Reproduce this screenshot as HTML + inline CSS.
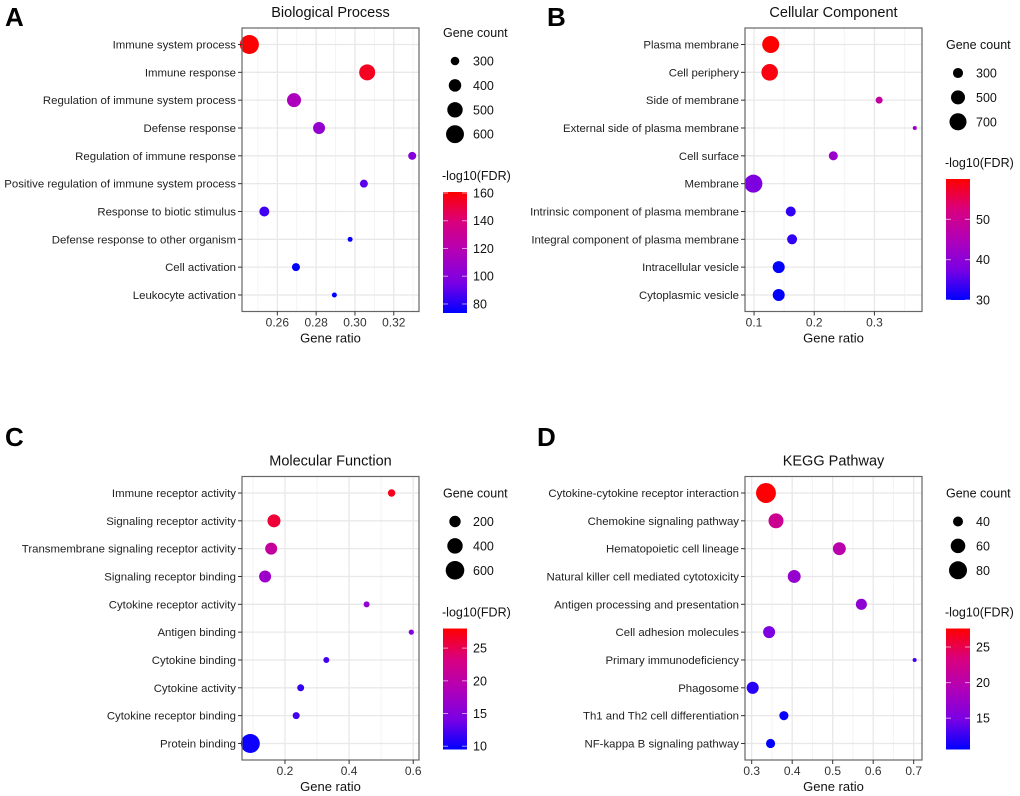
<!DOCTYPE html>
<html><head><meta charset="utf-8"><style>
html,body{margin:0;padding:0;background:#fff;}
svg{display:block;font-family:"Liberation Sans",Arial,sans-serif;}
</style></head><body>
<svg id="fig" width="1020" height="796" viewBox="0 0 1020 796">
<defs>
<linearGradient id="cbar" x1="0" y1="1" x2="0" y2="0">
<stop offset="0" stop-color="#0000ff"/><stop offset="0.25" stop-color="#7a00e4"/><stop offset="0.5" stop-color="#b100b8"/><stop offset="0.75" stop-color="#d9007e"/><stop offset="1" stop-color="#ff0000"/>
</linearGradient>
</defs>
</svg>
<script>
// Panel A: Biological Process
const aTerms=["Immune system process","Immune response","Regulation of immune system process","Defense response","Regulation of immune response","Positive regulation of immune system process","Response to biotic stimulus","Defense response to other organism","Cell activation","Leukocyte activation"];
const aRatio=[0.2456,0.3063,0.2686,0.2815,0.3295,0.3046,0.2533,0.2975,0.2696,0.2894];
const aCount=[650,522,449,385,288,288,332,240,288,240];
const aFdr=[160,155,115,105,100,90,85,75,72,72];
const aXTicks=[0.26,0.28,0.30,0.32];
const aSizeTicks=[300,400,500,600];
const aColorTicks=[80,100,120,140,160];
// Panel B: Cellular Component
const bTerms=["Plasma membrane","Cell periphery","Side of membrane","External side of plasma membrane","Cell surface","Membrane","Intrinsic component of plasma membrane","Integral component of plasma membrane","Intracellular vesicle","Cytoplasmic vesicle"];
const bRatio=[0.1277,0.126,0.3078,0.367,0.2317,0.0989,0.161,0.1632,0.141,0.141];
const bCount=[700,668,188,119,257,773,297,297,390,390];
const bFdr=[60,59,48,42,42,38,33,33,30,30];
const bXTicks=[0.1,0.2,0.3];
const bSizeTicks=[300,500,700];
const bColorTicks=[30,40,50];
// Panel C: Molecular Function
const cTerms=["Immune receptor activity","Signaling receptor activity","Transmembrane signaling receptor activity","Signaling receptor binding","Cytokine receptor activity","Antigen binding","Cytokine binding","Cytokine activity","Cytokine receptor binding","Protein binding"];
const cRatio=[0.5325,0.1657,0.157,0.138,0.4546,0.594,0.329,0.249,0.235,0.092];
const cCount=[61,272,226,226,26,10,26,50,50,628];
const cFdr=[27,26,21,17,16,15,12,11.5,12,10];
const cXTicks=[0.2,0.4,0.6];
const cSizeTicks=[200,400,600];
const cColorTicks=[10,15,20,25];
// Panel D: KEGG Pathway
const dTerms=["Cytokine-cytokine receptor interaction","Chemokine signaling pathway","Hematopoietic cell lineage","Natural killer cell mediated cytotoxicity","Antigen processing and presentation","Cell adhesion molecules","Primary immunodeficiency","Phagosome","Th1 and Th2 cell differentiation","NF-kappa B signaling pathway"];
const dRatio=[0.3353,0.36,0.5164,0.405,0.5708,0.343,0.7023,0.3025,0.3795,0.3466];
const dCount=[93,62,52,52,44,48,25,48,37,37];
const dFdr=[27.5,22,20,17,16.5,15,13,12,11,10.6];
const dXTicks=[0.3,0.4,0.5,0.6,0.7];
const dSizeTicks=[40,60,80];
const dColorTicks=[15,20,25];

const NS="http://www.w3.org/2000/svg";
const svg=document.getElementById('fig');
function mk(tag,attrs,parent,text){const e=document.createElementNS(NS,tag);for(const k in attrs)e.setAttribute(k,attrs[k]);if(text!==undefined)e.textContent=text;(parent||svg).appendChild(e);return e;}
const stops=[[0,[0,0,255]],[0.25,[122,0,228]],[0.5,[177,0,184]],[0.75,[217,0,126]],[1,[255,0,0]]];
function colorAt(t){t=Math.max(0,Math.min(1,t));for(let i=1;i<stops.length;i++){if(t<=stops[i][0]){const a=stops[i-1],b=stops[i];const f=(t-a[0])/(b[0]-a[0]);const c=a[1].map((v,j)=>Math.round(v+(b[1][j]-v)*f));return `rgb(${c[0]},${c[1]},${c[2]})`;}}return 'rgb(255,0,0)';}
function fmt(v,dec){return v.toFixed(dec);}

function panel(p){
  const g=mk('g',{});
  
  
  const L=p.x0,R=p.x0+177,T=p.y0,B=p.y0+283.5;
  const xs=v=>L+(v-p.dom[0])/(p.dom[1]-p.dom[0])*(R-L);
  const ys=i=>T+16.5+i*27.83;
  const rs=c=>Math.sqrt(Math.max(4,p.sa+p.sb*c));
  const cs=v=>(v-p.cdom[0])/(p.cdom[1]-p.cdom[0]);
  const letter=mk('text',{x:p.lx,y:p.ly,'font-size':26,'font-weight':'bold',fill:'#000'},g,p.letter);
  
  
  const title=mk('text',{x:(L+R)/2,y:T-11,'font-size':14.5,'text-anchor':'middle',fill:'#111'},g,p.title);
  
  
  mk('rect',{x:L,y:T,width:R-L,height:B-T,fill:'#fff'},g);
  const step=p.ticks[1]-p.ticks[0];
  for(let v=p.ticks[0]-step*1.5;v<=p.dom[1]+step;v+=step){const x=xs(v);if(x>L&&x<R)mk('line',{x1:x,x2:x,y1:T,y2:B,stroke:'#f3f3f3','stroke-width':1},g);}
  p.ticks.forEach(v=>{const x=xs(v);mk('line',{x1:x,x2:x,y1:T,y2:B,stroke:'#e8e8e8','stroke-width':1.3},g);});
  p.terms.forEach((t,i)=>{mk('line',{x1:L,x2:R,y1:ys(i),y2:ys(i),stroke:'#e8e8e8','stroke-width':1.3},g);});
  p.terms.forEach((t,i)=>{
    const c=mk('circle',{cx:xs(p.ratio[i]),cy:ys(i),r:rs(p.count[i]),fill:colorAt(cs(p.fdr[i]))},g);
    
    
  });
  mk('rect',{x:L,y:T,width:R-L,height:B-T,fill:'none',stroke:'#666','stroke-width':1.2},g);
  p.terms.forEach((t,i)=>{
    mk('line',{x1:L-4,x2:L,y1:ys(i),y2:ys(i),stroke:'#333','stroke-width':1},g);
    const tx=mk('text',{x:L-6,y:ys(i)+4,'font-size':11.4,'text-anchor':'end',fill:'#222'},g,t);
    
    
  });
  p.ticks.forEach(v=>{
    const x=xs(v);
    mk('line',{x1:x,x2:x,y1:B,y2:B+4,stroke:'#333','stroke-width':1},g);
    const tx=mk('text',{x:x,y:B+15,'font-size':12,'text-anchor':'middle',fill:'#333'},g,fmt(v,p.dec));
    
    
  });
  const xt=mk('text',{x:(L+R)/2,y:B+31,'font-size':13,'text-anchor':'middle',fill:'#111'},g,'Gene ratio');
  
  
  const lx=R+24;
  const st=mk('text',{x:lx,y:p.y0+p.legY,'font-size':12.5,fill:'#111'},g,'Gene count');
  
  
  p.sizeTicks.forEach((s,i)=>{
    const cy=p.y0+p.legY+24+i*24.4;
    const c=mk('circle',{cx:lx+12,cy:cy,r:rs(s),fill:'#000'},g);
    
    
    mk('text',{x:lx+30,y:cy+4.5,'font-size':12.5,fill:'#111'},g,String(s));
  });
  const ct=mk('text',{x:lx-1,y:p.y0+p.cbY-5,'font-size':12.5,fill:'#111'},g,'-log10(FDR)');
  
  
  const cbT=p.y0+p.cbY+7,cbB=cbT+121;
  const cb=mk('rect',{x:lx,y:cbT,width:24,height:121,fill:'url(#cbar)'},g);
  
  
  p.cticks.forEach(v=>{
    const y=cbB-cs(v)*121;
    mk('line',{x1:lx,x2:lx+5,y1:y,y2:y,stroke:'#fff','stroke-opacity':0.6},g);
    mk('line',{x1:lx+19,x2:lx+24,y1:y,y2:y,stroke:'#fff','stroke-opacity':0.6},g);
    mk('text',{x:lx+30,y:y+4.5,'font-size':12.5,fill:'#111'},g,String(v));
  });
}
panel({id:'biological-process',letter:'A',lx:5,ly:26,title:'Biological Process',x0:242,y0:28,dom:[0.2418,0.333],ticks:aXTicks,dec:2,terms:aTerms,ratio:aRatio,count:aCount,fdr:aFdr,sa:-43,sb:0.205,sizeTicks:aSizeTicks,cdom:[73.5,160.7],cticks:aColorTicks,legY:9,cbY:157});
panel({id:'cellular-component',letter:'B',lx:547,ly:26,title:'Cellular Component',x0:745,y0:28,dom:[0.085,0.379],ticks:bXTicks,dec:1,terms:bTerms,ratio:bRatio,count:bCount,fdr:bFdr,sa:-10,sb:0.118,sizeTicks:bSizeTicks,cdom:[30,60],cticks:bColorTicks,legY:21,cbY:144});
panel({id:'molecular-function',letter:'C',lx:5,ly:446,title:'Molecular Function',x0:242,y0:476.5,dom:[0.066,0.618],ticks:cXTicks,dec:1,terms:cTerms,ratio:cRatio,count:cCount,fdr:cFdr,sa:5.5,sb:0.135,sizeTicks:cSizeTicks,cdom:[9.5,28],cticks:cColorTicks,legY:21,cbY:145});
panel({id:'kegg-pathway',letter:'D',lx:537,ly:446,title:'KEGG Pathway',x0:745,y0:476.5,dom:[0.2835,0.7205],ticks:dXTicks,dec:1,terms:dTerms,ratio:dRatio,count:dCount,fdr:dFdr,sa:-31,sb:1.4,sizeTicks:dSizeTicks,cdom:[10.6,27.6],cticks:dColorTicks,legY:21,cbY:145});
</script>
</body></html>
